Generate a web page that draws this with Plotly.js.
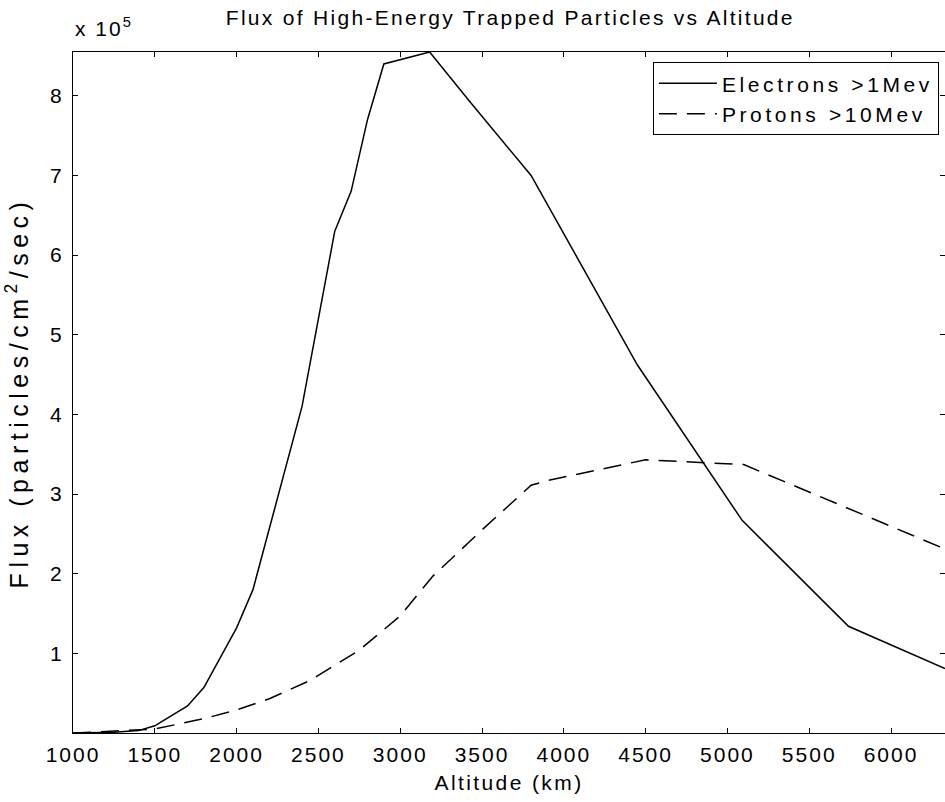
<!DOCTYPE html>
<html>
<head>
<meta charset="utf-8">
<script src="https://cdn.plot.ly/plotly-3.0.1.min.js"></script>
<style>
html,body{margin:0;padding:0;background:#fff;}
#chart{width:945px;height:802px;}
.gtitle{letter-spacing:2.3px;}
.xtick text, .ytick text{letter-spacing:2px;}
.g-xtitle text{letter-spacing:2.4px;}
.g-ytitle text{letter-spacing:5.5px;}
.legendtext{letter-spacing:3.6px;}
.annotation-text{letter-spacing:2px;}
</style>
</head>
<body>
<div id="chart"></div>
<script>
// Altitude (km) and flux (units of 1e5 particles/cm^2/sec)
const electronAltitude = [1000, 1250, 1400, 1500, 1700, 1800, 2000, 2100, 2400, 2600, 2700, 2800, 2900, 3180, 3420, 3800, 4450, 5090, 5740, 6330];
const electronFlux     = [0, 0.01, 0.03, 0.09, 0.34, 0.57, 1.32, 1.8, 4.1, 6.3, 6.8, 7.7, 8.4, 8.55, 7.94, 7.0, 4.62, 2.67, 1.34, 0.81];
const protonAltitude = [1000, 1500, 1800, 2000, 2200, 2450, 2750, 3000, 3200, 3500, 3800, 3900, 4500, 5100, 6330];
const protonFlux     = [0, 0.05, 0.18, 0.29, 0.43, 0.66, 1.04, 1.47, 1.97, 2.55, 3.11, 3.17, 3.43, 3.37, 2.31];
const xTicks = [1000, 1500, 2000, 2500, 3000, 3500, 4000, 4500, 5000, 5500, 6000];
const yTicks = [1, 2, 3, 4, 5, 6, 7, 8];
const seriesNames = ["Electrons >1Mev", "Protons >10Mev"];

const font = "Arial, 'Liberation Sans', Helvetica, sans-serif";
const traces = [
  {x: electronAltitude, y: electronFlux, mode: "lines", name: seriesNames[0],
   line: {color: "#000", width: 1.5}},
  {x: protonAltitude, y: protonFlux, mode: "lines", name: seriesNames[1],
   line: {color: "#000", width: 1.5, dash: "18px,10px"}}
];
const axisCommon = {
  showgrid: false, zeroline: false, showline: true, linecolor: "#000", linewidth: 1,
  mirror: "ticks", ticks: "inside", ticklen: 5, tickcolor: "#000", tickwidth: 1,
  tickfont: {family: font, size: 21, color: "#000"}
};
const layout = {
  width: 945, height: 802,
  margin: {l: 73, r: 0, t: 52, b: 69},
  paper_bgcolor: "#fff", plot_bgcolor: "#fff",
  showlegend: true,
  title: {text: "Flux of High-Energy Trapped Particles vs Altitude", x: 0.54, xanchor: "center", y: 0.978, yanchor: "middle",
          font: {family: font, size: 21, color: "#000"}},
  xaxis: Object.assign({}, axisCommon, {
    range: [1000, 6330], tickvals: xTicks, ticktext: xTicks.map(String), ticklabelstandoff: 3,
    title: {text: "Altitude (km)", font: {family: font, size: 21, color: "#000"}, standoff: 10}
  }),
  yaxis: Object.assign({}, axisCommon, {
    range: [0, 8.55], tickvals: yTicks, ticktext: yTicks.map(String), ticklabelstandoff: 4,
    title: {text: "Flux (particles/cm<sup>2</sup>/sec)", font: {family: font, size: 25, color: "#000"}, standoff: 14}
  }),
  legend: {x: 0.993, y: 0.985, xanchor: "right", yanchor: "top", bgcolor: "#fff",
           bordercolor: "#000", borderwidth: 1, font: {family: font, size: 21, color: "#000"},
           tracegroupgap: 0, itemwidth: 58},
  annotations: [{text: "x 10<sup>5</sup>", xref: "paper", yref: "paper", x: 0, y: 1, xanchor: "left", yanchor: "bottom",
                 yshift: 10, showarrow: false, font: {family: font, size: 21, color: "#000"}}]
};
Plotly.newPlot("chart", traces, layout, {displayModeBar: false, staticPlot: true});
</script>
</body>
</html>
